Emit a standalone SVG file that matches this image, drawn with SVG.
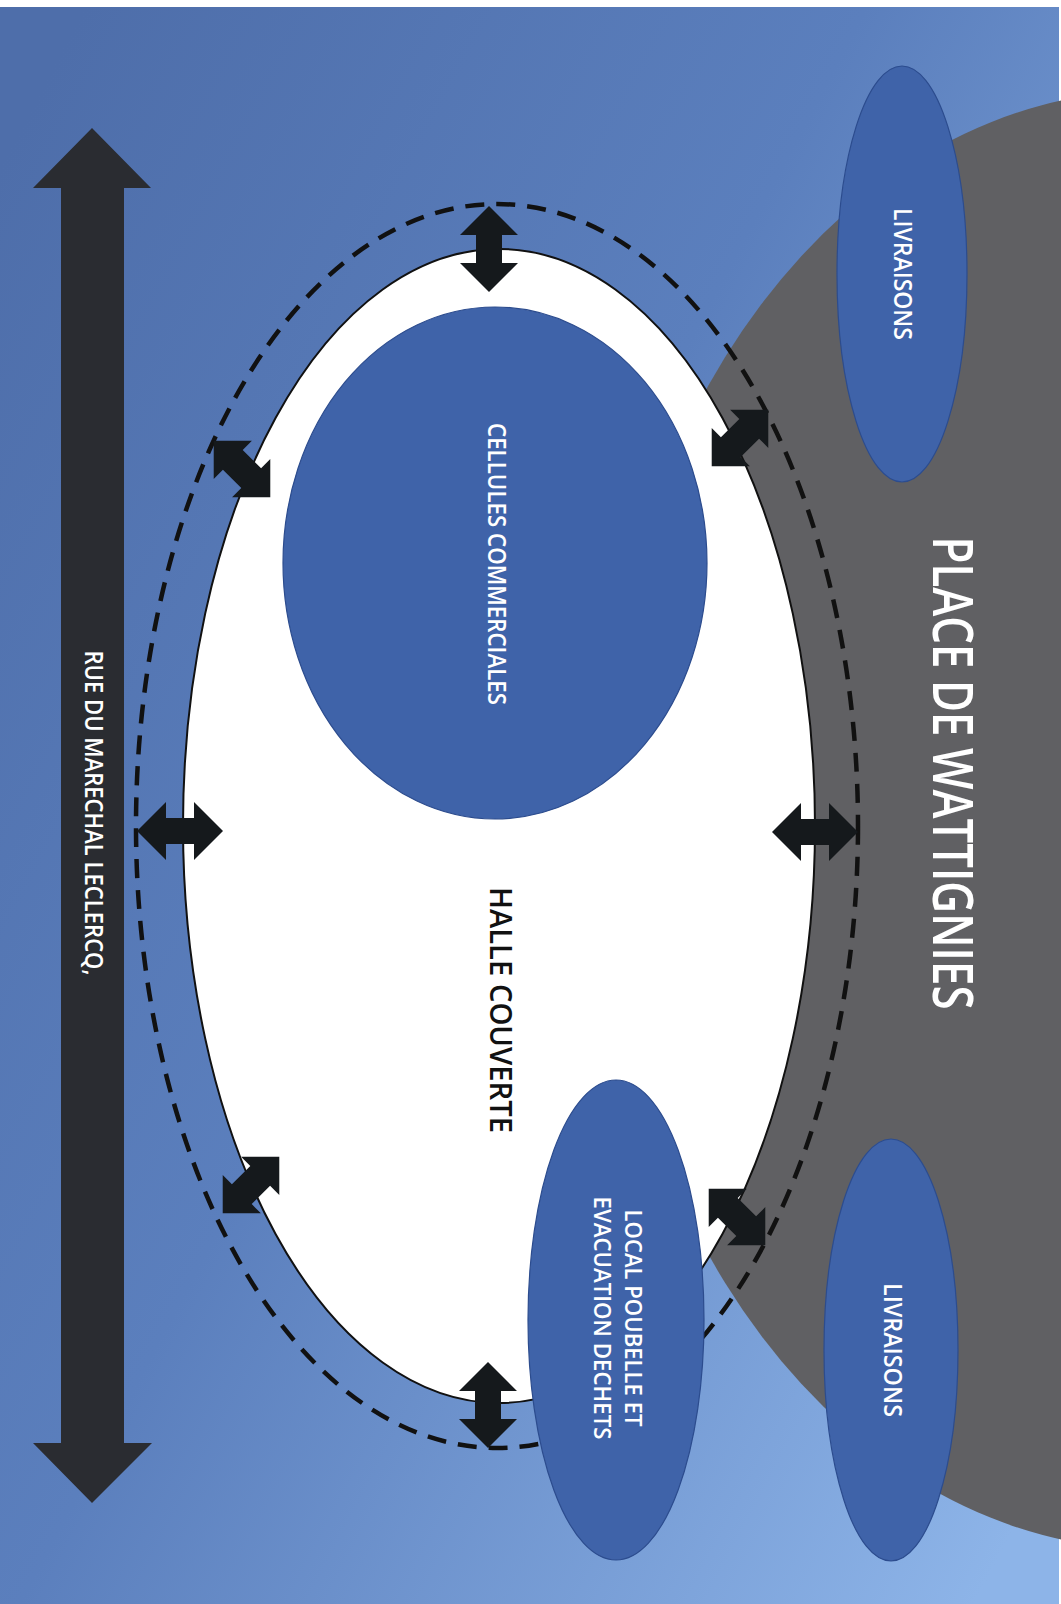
<svg xmlns="http://www.w3.org/2000/svg" width="1061" height="1604" viewBox="0 0 1061 1604">
  <defs>
    <linearGradient id="bg" x1="0" y1="0.1" x2="1" y2="0.9">
      <stop offset="0" stop-color="#4e6eaa"/>
      <stop offset="0.45" stop-color="#5b7fbd"/>
      <stop offset="1" stop-color="#8db4e8"/>
    </linearGradient>
    <path id="dbl" d="M -43 0 L -14 -29 L -14 -13 L 14 -13 L 14 -29 L 43 0 L 14 29 L 14 13 L -14 13 L -14 29 Z"/>
    <path id="dbl-diag" d="M -40 0 L -13 -27 L -13 -14 L 13 -14 L 13 -27 L 40 0 L 13 27 L 13 14 L -13 14 L -13 27 Z"/>
    <style>
      .node { fill: #3f63a9; stroke: #2c4c8e; stroke-width: 1.2; }
      .lbl { font-family: "Open Sans", "Noto Sans", "Liberation Sans", sans-serif; font-weight: 600; fill: #ffffff; text-anchor: middle; }
      .arr { fill: #15191c; }
    </style>
  </defs>

  <rect x="0" y="0" width="1061" height="1604" fill="#ffffff"/>
  <rect x="0" y="7" width="1059" height="1597" fill="url(#bg)"/>

  <g id="place-de-wattignies">
    <ellipse cx="1150" cy="820" rx="550" ry="729" fill="#606063"/>
    <g transform="translate(953,773) rotate(90)">
      <text class="lbl" x="0" y="20" font-size="56" textLength="473" lengthAdjust="spacingAndGlyphs">PLACE DE WATTIGNIES</text>
    </g>
  </g>

  <g id="livraisons-1">
    <ellipse class="node" cx="902" cy="274" rx="65" ry="208"/>
    <g transform="translate(903,274) rotate(90)">
      <text class="lbl" x="0" y="9" font-size="26" textLength="132" lengthAdjust="spacingAndGlyphs">LIVRAISONS</text>
    </g>
  </g>

  <g id="livraisons-2">
    <ellipse class="node" cx="891" cy="1350" rx="67" ry="211"/>
    <g transform="translate(893,1350) rotate(90)">
      <text class="lbl" x="0" y="9" font-size="26" textLength="134" lengthAdjust="spacingAndGlyphs">LIVRAISONS</text>
    </g>
  </g>

  <g id="halle-couverte">
    <ellipse cx="499" cy="826" rx="316" ry="577" fill="#ffffff" stroke="#111111" stroke-width="2"/>
    <g transform="translate(501,1010) rotate(90)">
      <text class="lbl" x="0" y="11" font-size="30" style="fill:#111111" textLength="246" lengthAdjust="spacingAndGlyphs">HALLE COUVERTE</text>
    </g>
  </g>

  <g id="perimetre">
    <ellipse cx="497" cy="826" rx="361" ry="622" fill="none" stroke="#111111" stroke-width="4.5" stroke-dasharray="19 12"/>
  </g>

  <g id="cellules-commerciales">
    <ellipse class="node" cx="495" cy="563" rx="212" ry="256"/>
    <g transform="translate(497,564) rotate(90)">
      <text class="lbl" x="0" y="9" font-size="25" textLength="282" lengthAdjust="spacingAndGlyphs">CELLULES COMMERCIALES</text>
    </g>
  </g>

  <g id="local-poubelle">
    <ellipse class="node" cx="616" cy="1320" rx="88" ry="240"/>
    <g transform="translate(633,1318) rotate(90)">
      <text class="lbl" x="0" y="8.5" font-size="24" textLength="217" lengthAdjust="spacingAndGlyphs">LOCAL POUBELLE ET</text>
    </g>
    <g transform="translate(602,1318) rotate(90)">
      <text class="lbl" x="0" y="8.5" font-size="24" textLength="243" lengthAdjust="spacingAndGlyphs">EVACUATION DECHETS</text>
    </g>
  </g>

  <g id="rue-du-marechal-leclercq">
    <path d="M 92 128 L 151 188 L 124 188 L 124 1443 L 152 1443 L 92 1503 L 33 1443 L 61 1443 L 61 188 L 33 188 Z" fill="#2a2c31"/>
    <g transform="translate(94,813) rotate(90)">
      <text class="lbl" x="0" y="9" font-size="25" textLength="325" lengthAdjust="spacingAndGlyphs">RUE DU MARECHAL LECLERCQ,</text>
    </g>
  </g>

  <g id="connectors">
    <use href="#dbl" class="arr" transform="translate(489,249) rotate(90)"/>
    <use href="#dbl" class="arr" transform="translate(488,1405) rotate(90)"/>
    <use href="#dbl" class="arr" transform="translate(180,831)"/>
    <use href="#dbl" class="arr" transform="translate(815,832)"/>
    <use href="#dbl-diag" class="arr" transform="translate(242,469) rotate(45)"/>
    <use href="#dbl-diag" class="arr" transform="translate(740,438) rotate(-45)"/>
    <use href="#dbl-diag" class="arr" transform="translate(251,1185) rotate(-45)"/>
    <use href="#dbl-diag" class="arr" transform="translate(737,1217) rotate(45)"/>
  </g>
</svg>
